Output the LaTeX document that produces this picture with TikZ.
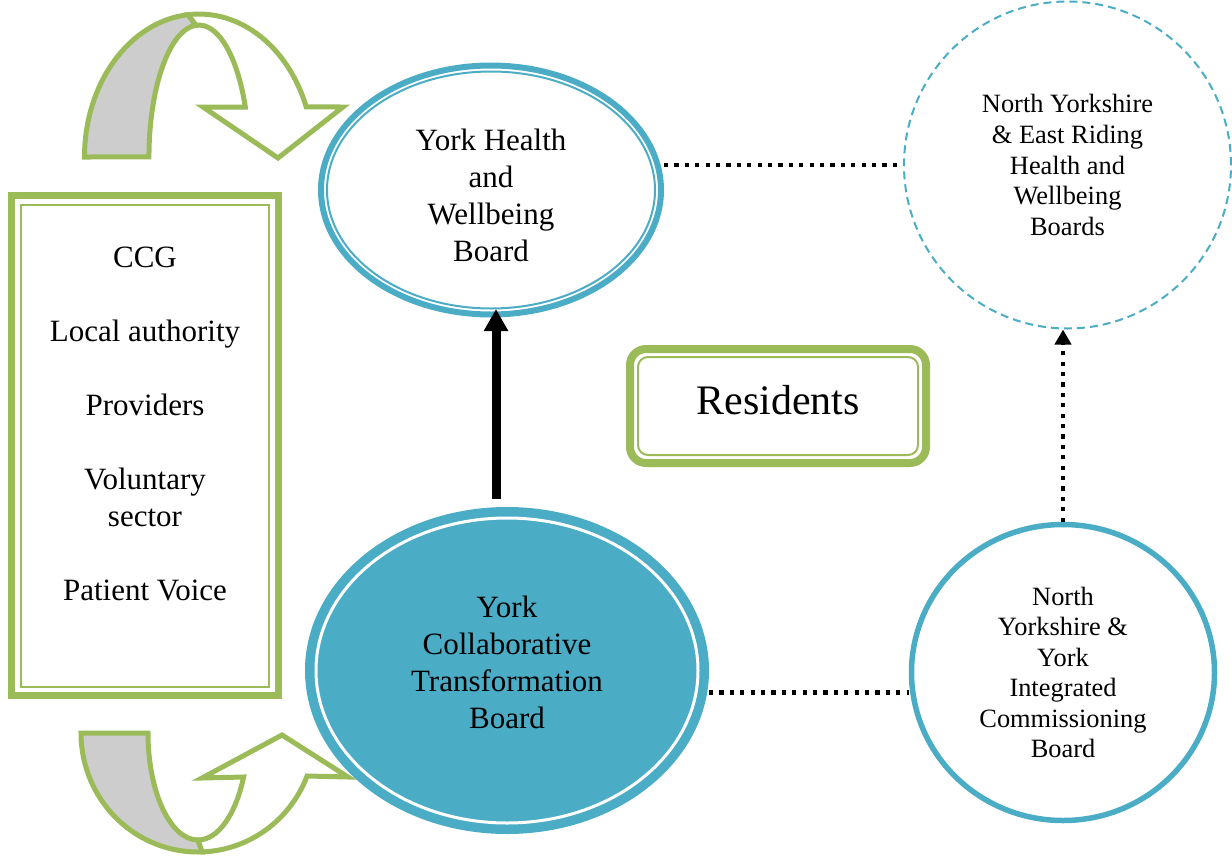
\documentclass[tikz,border=0pt]{standalone}
\usepackage{fontspec}
\setmainfont{Liberation Serif}
\usetikzlibrary{arrows.meta,shapes.geometric}
\definecolor{boardblue}{HTML}{4BACC6}
\definecolor{leafgreen}{HTML}{9BBB59}
\definecolor{bandgray}{HTML}{CDCDCD}

\begin{document}
\begin{tikzpicture}[x=0.5pt,y=-0.5pt,line join=miter,
font=\fontsize{15.5}{18.5}\selectfont]
\tikzstyle{board}=[ellipse,draw=boardblue,line width=3pt,inner sep=0pt,align=center]
\tikzstyle{smallboard}=[ellipse,draw=boardblue,inner sep=0pt,align=center,font=\fontsize{13.2}{15.4}\selectfont]
\tikzstyle{greenline}=[draw=leafgreen,line width=2.5pt]
\tikzstyle{dotline}=[line width=2.1pt,dash pattern=on 2.1pt off 3.1pt]

\useasboundingbox (0,0) rectangle (1232,857);

% curved arrows
\filldraw[greenline,fill=bandgray] (84.5,157) arc[start angle=180,end angle=264.5,x radius=114.5,y radius=143]
  -- (196,25.2) arc[start angle=266.6,end angle=180,x radius=50,y radius=132] -- cycle;
\filldraw[greenline,fill=white] (188,14.7) arc[start angle=264.5,end angle=339.5,x radius=114.5,y radius=143]
  -- (343,107) -- (278,158) -- (203,107)
  -- (245.3,107) arc[start angle=337.7,end angle=266.6,x radius=50,y radius=132] -- cycle;
\filldraw[greenline,fill=bandgray] (81,733) arc[start angle=180,end angle=88,x radius=117,y radius=119]
  -- (198,840) arc[start angle=90,end angle=180,x radius=50,y radius=107] -- cycle;
\filldraw[greenline,fill=white] (202.1,851.9) arc[start angle=88,end angle=21.2,x radius=117,y radius=119]
  -- (348,777) -- (282,735) -- (202,778)
  -- (243.6,777) arc[start angle=24.3,end angle=90,x radius=50,y radius=107] -- cycle;

% members box
\node[draw=leafgreen,line width=3.5pt,minimum width=133.5pt,minimum height=250pt] (lb) at (145,445.5) {};
\draw[leafgreen,line width=1pt] ([shift={(13,12.5)}]lb.north west) rectangle ([shift={(-13,-12.5)}]lb.south east);
\node[align=center] (members) at (145,423.5) {CCG\\[18.5pt]Local authority\\[18.5pt]Providers\\[18.5pt]Voluntary\\sector\\[18.5pt]Patient Voice};

% boards
\node[board,minimum width=170pt,minimum height=124.5pt] (hwb) at (491,190) {\rule{0pt}{16pt}York Health\\and\\Wellbeing\\Board};
\draw[boardblue,line width=1pt] (hwb.center) ellipse[x radius=164,y radius=118.5];

\node[board,fill=boardblue,line width=4pt,minimum width=198pt,minimum height=159.5pt] (ctb) at (507,670.5) {York\\Collaborative\\Transformation\\Board\rule[-8pt]{0pt}{8pt}};
\draw[white,line width=1.5pt] (ctb.center) ellipse[x radius=191,y radius=152.5];

\node[smallboard,line width=1pt,dash pattern=on 4pt off 2.5pt,minimum width=163.5pt,minimum height=163.5pt] (nyer) at (1067.5,165) {North Yorkshire\\\& East Riding\\Health and\\Wellbeing\\Boards};
\node[smallboard,line width=2.75pt,minimum width=151.5pt,minimum height=148pt,font=\fontsize{13.2}{15.2}\selectfont] (icb) at (1063,672.5) {North\\Yorkshire \&\\York\\Integrated\\Commissioning\\Board};

\node[draw=leafgreen,line width=4pt,rounded corners=8pt,minimum width=148pt,minimum height=57pt,font=\fontsize{21}{25}\selectfont] (res) at (778,406) {Residents\rule[-6pt]{0pt}{6pt}};
\draw[leafgreen,line width=1pt,rounded corners=5pt] ([shift={(12,12)}]res.north west) rectangle ([shift={(-12,-12)}]res.south east);

% links
\draw[line width=4.5pt,-{Triangle[width=11.5pt,length=11pt]}] ([xshift=-5.5pt,yshift=4pt]ctb.north) -- ([xshift=2.5pt,yshift=4.25pt]hwb.south);
\draw[dotline,-{Triangle[width=8pt,length=7.5pt]}] (icb.north) -- (icb.north |- nyer.south);
\draw[dotline] (hwb.east |- nyer.west) -- (nyer.west);
\draw[dotline] ([yshift=-11pt]ctb.east) -- ([yshift=-11pt]ctb.east -| icb.west);
\end{tikzpicture}
\end{document}
